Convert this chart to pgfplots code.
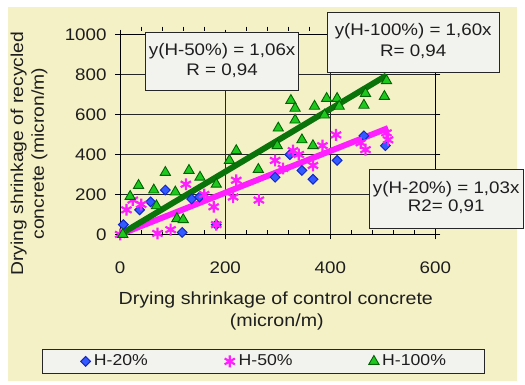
\documentclass[border=0pt]{standalone}
\usepackage{fontspec}
\setmainfont{Liberation Sans}[FakeStretch=1.12]
\usepackage{pgfplots}
\pgfplotsset{compat=1.18}
\definecolor{bgy}{RGB}{244,241,199}
\definecolor{boxf}{RGB}{242,242,238}
\definecolor{txt}{RGB}{30,30,30}
\definecolor{dblue}{RGB}{20,40,200}
\definecolor{mblue}{RGB}{50,90,255}
\definecolor{mag}{RGB}{255,30,255}
\definecolor{gfill}{RGB}{30,200,30}
\definecolor{gdraw}{RGB}{0,100,0}
\definecolor{gline}{RGB}{10,115,10}

\pgfplotstableread{
x y
6 49
37 123
58 163
86 222
118 10
136 177
151 187
183 49
295 286
323 399
346 320
367 276
413 370
464 493
505 444
}\tA
\pgfplotstableread{
x y
0 0
12 123
24 172
40 150
71 5
96 24
125 251
160 200
178 138
183 49
215 187
221 271
264 172
295 370
310 330
329 419
340 400
367 345
385 444
411 498
458 458
467 424
507 508
510 473
}\tB
\pgfplotstableread{
x y
5 0
19 190
35 245
64 222
69 143
86 310
105 212
108 79
120 74
131 320
152 286
183 251
208 370
221 419
263 325
299 444
301 532
325 670
333 631
333 572
346 473
367 444
370 641
389 597
393 680
413 680
417 641
464 646
467 705
503 690
507 769
}\tC

\begin{document}
\fontsize{17pt}{20pt}\selectfont
\begin{tikzpicture}
\begin{scope}[x=1pt,y=1pt]
\useasboundingbox (0,0) rectangle (525,390);
\fill[white] (0,0) rectangle (525,390);
\fill[bgy] (8,3) rectangle (525,383);
\end{scope}
\begin{axis}[
  at={(122pt,152pt)}, anchor=south west,
  scale only axis, width=320pt, height=203pt,
  xmin=0, xmax=600, ymin=0, ymax=1000,
  xtick={0,200,400,600}, ytick={0,200,400,600,800,1000},
  minor x tick num=4,
  grid=major,
  major grid style={black!85, line width=0.9pt},
  axis line style={black, line width=0.9pt},
  tick style={black, line width=0.9pt},
  tick align=outside,
  major tick length=5pt, minor tick length=4pt,
  minor x tick style={yshift=4pt},
  /pgf/number format/assume math mode=true,
  /pgf/number format/1000 sep={},
  ticklabel style={font=\fontsize{17pt}{20pt}\selectfont, text=txt},
  xticklabel style={yshift=-17pt},
  yticklabel style={xshift=-3pt},
  clip=false,
  legend columns=3,
  legend style={at={(0.455,-0.635)}, anchor=center, draw=black!85, line width=0.9pt,
    fill=boxf, font=\fontsize{16pt}{19pt}\selectfont, text=txt,
    inner xsep=37pt, inner ysep=3pt,
    /tikz/every even column/.append style={column sep=74pt}},
  legend image code/.code={\draw[#1, mark repeat=1] plot coordinates {(0pt,0pt)}; \path (-6pt,0pt) (6pt,0pt);},
]
\addplot[only marks, mark=square*, mark size=3.5pt, mark options={rotate=45}, draw=dblue, fill=mblue, line width=1pt] table[x=x,y=y]{\tA};
\addlegendentry{H-20\%}
\addplot[only marks, mark=asterisk, mark size=6pt, draw=mag, line width=2.2pt] table[x=x,y=y]{\tB};
\addlegendentry{H-50\%}
\addplot[only marks, mark=triangle*, mark size=6pt, draw=gdraw, fill=gfill, line width=0.9pt] table[x=x,y=y]{\tC};
\addlegendentry{H-100\%}
\addplot[forget plot, no marks, draw=mblue, line width=2.5pt] coordinates {(0,0) (505,520)};
\addplot[forget plot, no marks, draw=mag, line width=6pt] coordinates {(0,0) (510,532)};
\addplot[forget plot, no marks, draw=gline, line width=6pt] coordinates {(0,0) (507,795)};
\end{axis}
\begin{scope}[x=1pt,y=1pt]
% axis titles
\node[text=txt, font=\fontsize{17.8pt}{20pt}\selectfont] at (280,85) {Drying shrinkage of control concrete};
\node[text=txt, font=\fontsize{17.8pt}{20pt}\selectfont] at (281,63) {(micron/m)};
\node[text=txt, rotate=90, font=\fontsize{17.5pt}{20pt}\selectfont] at (19,234) {Drying shrinkage of recycled};
\node[text=txt, rotate=90, font=\fontsize{17.5pt}{20pt}\selectfont] at (40,234) {concrete (micron/m)};
% trendline labels
\draw[black!85, line width=0.9pt, fill=boxf] (148,298) rectangle (303,357);
\node[text=txt] at (225.5,338) {y(H-50\%) = 1,06x};
\node[text=txt] at (225.5,318) {R = 0,94};
\draw[black!85, line width=0.9pt, fill=boxf] (332,316) rectangle (507,377);
\node[text=txt] at (419.5,358) {y(H-100\%) = 1,60x};
\node[text=txt] at (419.5,337) {R= 0,94};
\draw[black!85, line width=0.9pt, fill=boxf] (375,158) rectangle (531,218);
\node[text=txt] at (453,198) {y(H-20\%) = 1,03x};
\node[text=txt] at (453,180) {R2= 0,91};
\end{scope}
\end{tikzpicture}
\end{document}
